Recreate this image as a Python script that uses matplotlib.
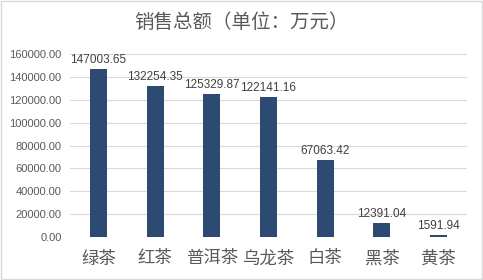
import matplotlib
matplotlib.use("Agg")
import matplotlib.pyplot as plt
from matplotlib.patches import Rectangle

categories = ["绿茶", "红茶", "普洱茶", "乌龙茶", "白茶", "黑茶", "黄茶"]
sales = [147003.65, 132254.35, 125329.87, 122141.16, 67063.42, 12391.04, 1591.94]
yticks = [0, 20000, 40000, 60000, 80000, 100000, 120000, 140000, 160000]

plt.rcParams["font.family"] = ["Noto Sans CJK SC", "DejaVu Sans"]

bar_color = "#2C4A72"
text_color = "#595959"

fig = plt.figure(figsize=(4.83, 2.80), dpi=100)
ax = fig.add_axes([70 / 483, 1 - 237 / 280, 397 / 483, (237 - 54) / 280])

x = list(range(len(categories)))
ax.bar(x, sales, width=0.3, color=bar_color, zorder=3)
for xi, v in zip(x, sales):
    ax.text(xi, v + 2500, f"{v:.2f}", ha="center", va="bottom", fontsize=8.5,
            color="#404040", family=["Liberation Sans", "DejaVu Sans"])

ax.set_xlim(-0.5, len(categories) - 0.5)
ax.set_ylim(0, 160000)
ax.set_yticks(yticks)
ax.set_yticklabels([f"{t:.2f}" for t in yticks], fontsize=8, color=text_color,
                   family=["Liberation Sans", "DejaVu Sans"])
ax.set_xticks(x)
ax.set_xticklabels(categories, fontsize=12.5, color=text_color)
ax.tick_params(axis="both", length=0)
ax.tick_params(axis="x", pad=9)
ax.tick_params(axis="y", pad=6)
ax.grid(axis="y", color="#D9D9D9", linewidth=0.8, zorder=0)
for s in ax.spines.values():
    s.set_visible(False)

fig.text(0.5, 1 - 23 / 280, "销售总额（单位：万元）", ha="center", va="center",
         fontsize=14, color=text_color)

fig.patches.append(Rectangle((0.002, 0.003), 0.995, 0.994, transform=fig.transFigure,
                             fill=False, edgecolor="#D9D9D9", linewidth=1))

fig.savefig("out.png", dpi=100)
